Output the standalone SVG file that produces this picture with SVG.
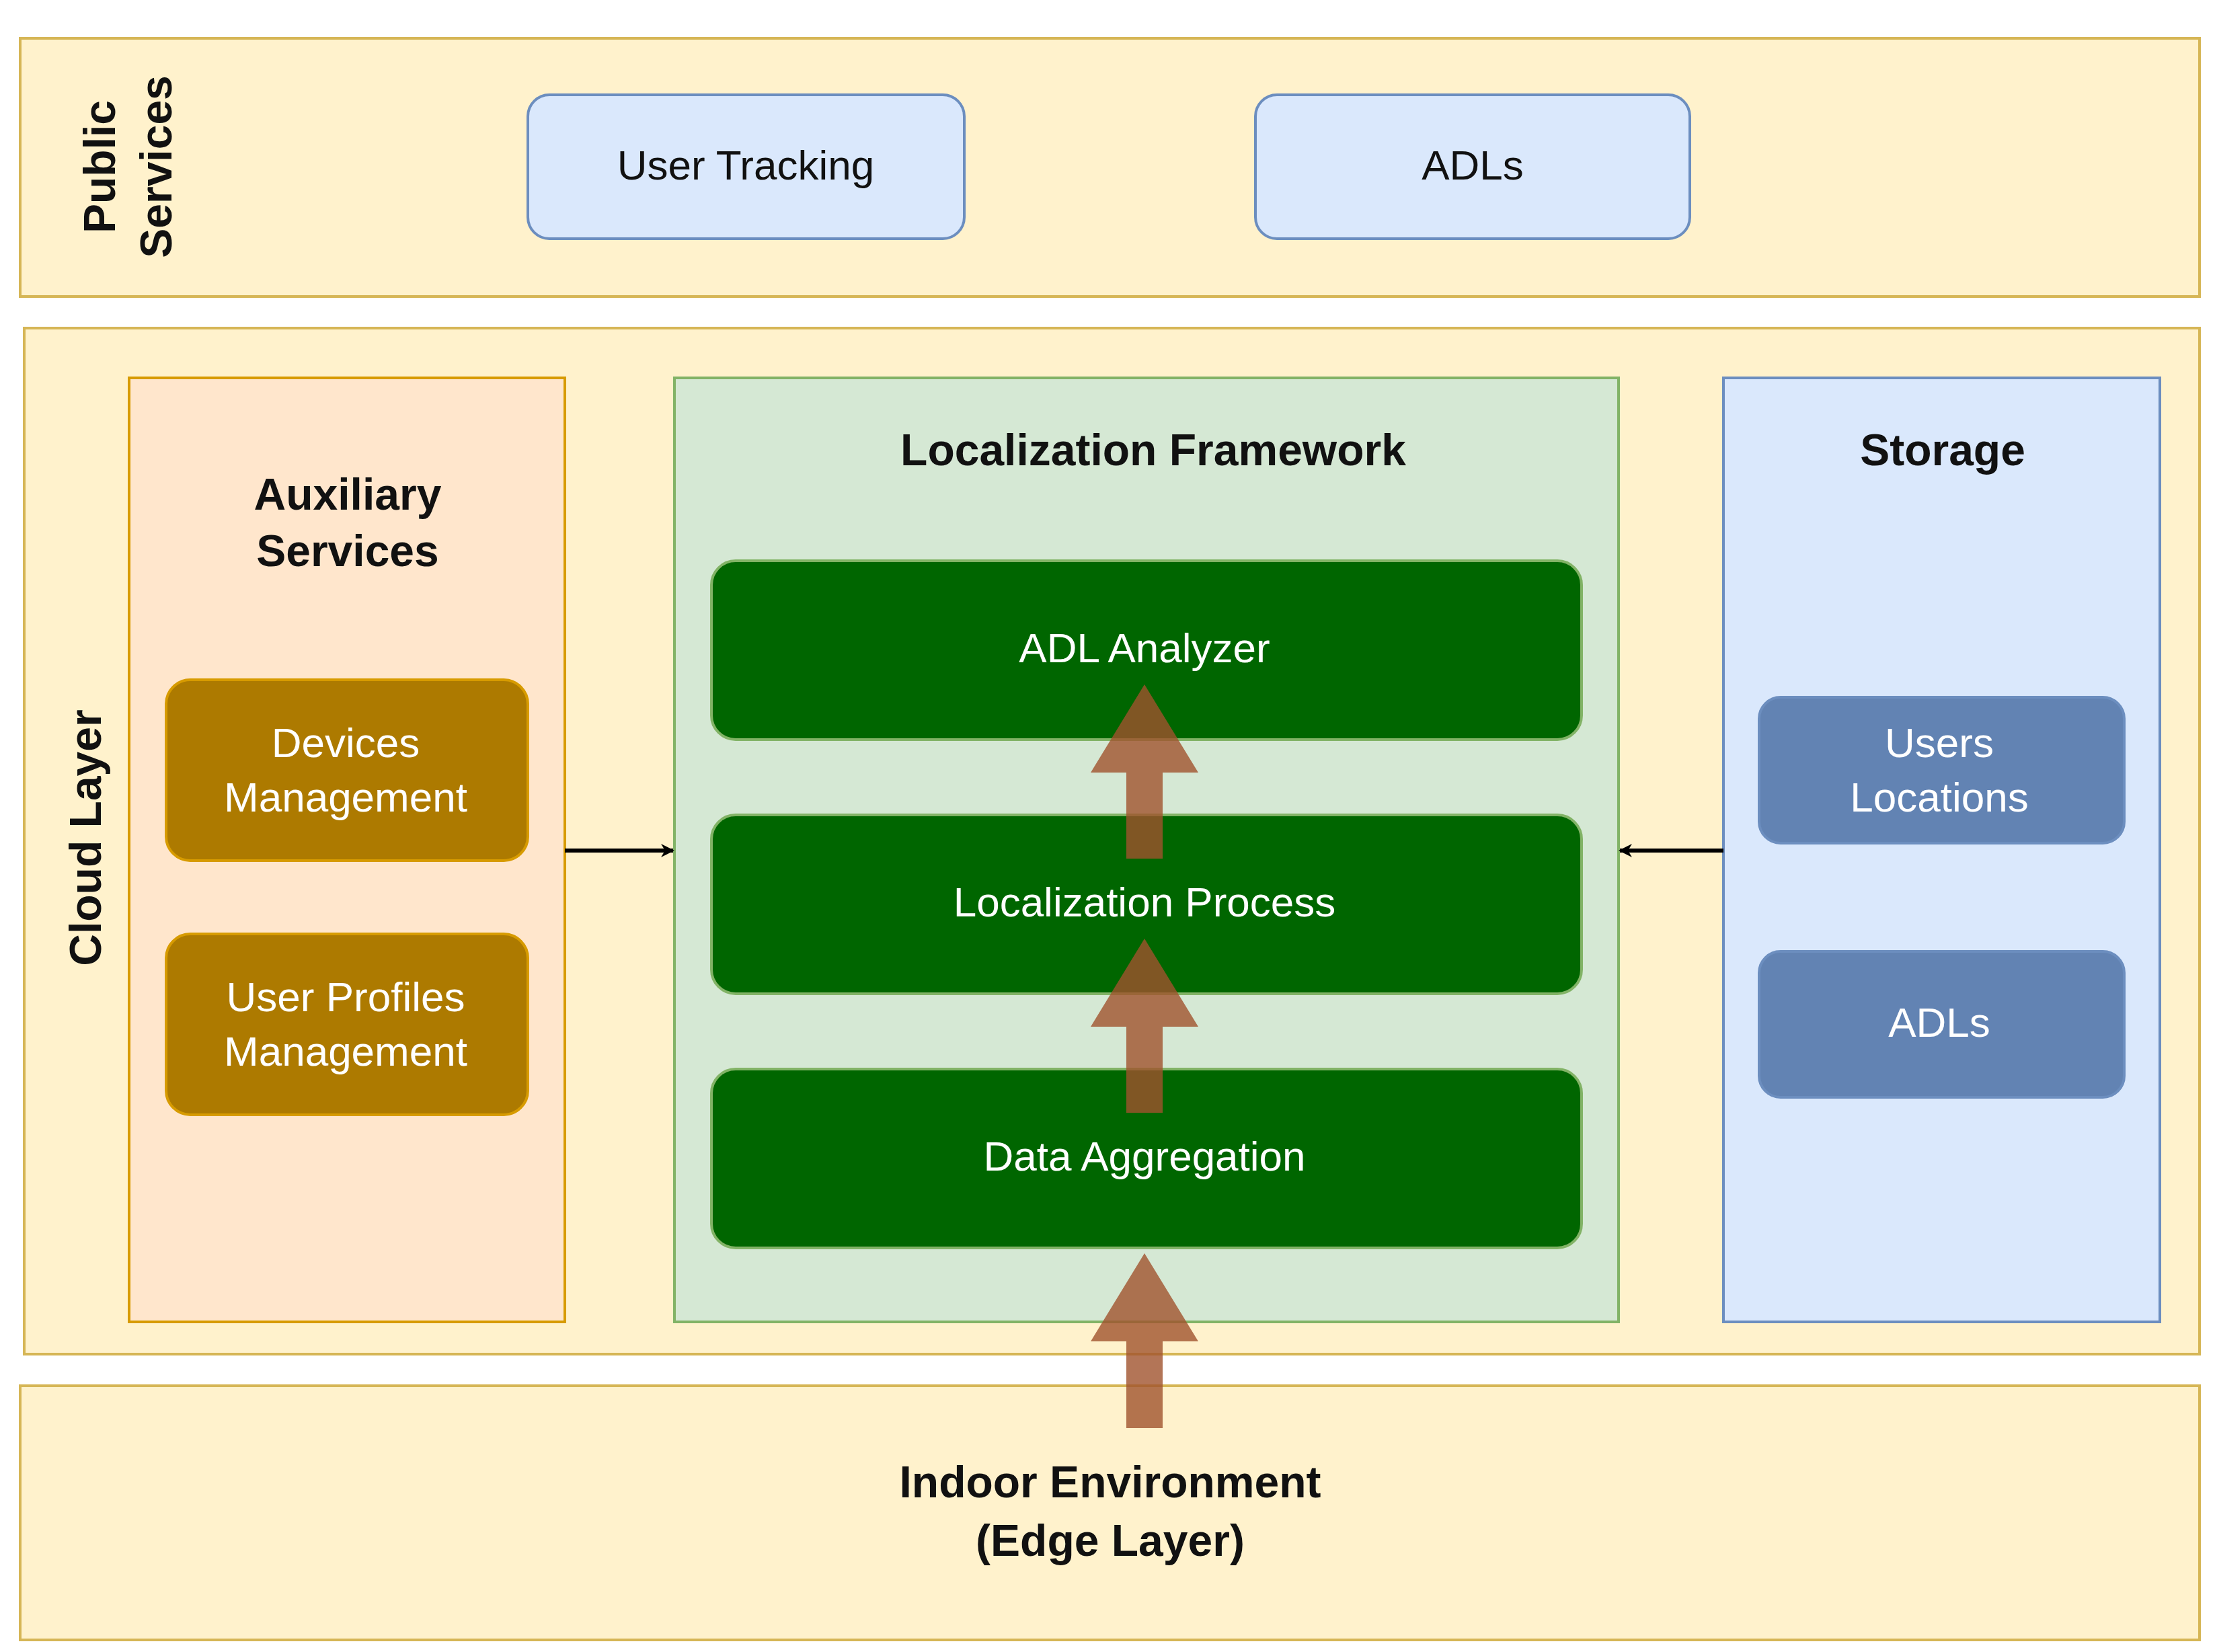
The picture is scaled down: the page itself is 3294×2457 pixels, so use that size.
<svg xmlns="http://www.w3.org/2000/svg" width="3294" height="2457" viewBox="0 0 3294 2457">
<style>
text{font-family:"Liberation Sans",Arial,sans-serif;text-anchor:middle;dominant-baseline:central}
.t{font-size:62px;fill:#111}
.b{font-size:66px;font-weight:bold;fill:#111}
.w{font-size:62px;fill:#fff}
.panel{fill:#fff2cc;stroke:#d6b656;stroke-width:4}
.blue{fill:#dae8fc;stroke:#6c8ebf;stroke-width:4}
.aux{fill:#ffe6cc;stroke:#d79b00;stroke-width:4}
.gold{fill:#ad7a00;stroke:#d79b00;stroke-width:4}
.lf{fill:#d5e8d4;stroke:#82b366;stroke-width:4}
.dg{fill:#006600;stroke:#82b366;stroke-width:4}
.sb{fill:#6283b3;stroke:#6c8ebf;stroke-width:4}
.blk{fill:#a0522d;fill-opacity:0.8}
</style>
<defs>
<marker id="ah" viewBox="0 0 20 20" refX="18" refY="10" markerWidth="20" markerHeight="20" markerUnits="userSpaceOnUse" orient="auto">
<path d="M0,0 L20,10 L0,20 L6,10 Z" fill="#000"/>
</marker>
</defs>
<rect width="3294" height="2457" fill="#fff"/>
<g id="public-services">
<rect class="panel" x="30" y="57" width="3241" height="384"/>
<text class="b" transform="translate(148,248) rotate(-90)">Public</text>
<text class="b" transform="translate(232,248) rotate(-90)">Services</text>
</g>
<g id="user-tracking"><rect class="blue" x="785" y="141" width="649" height="214" rx="32"/><text class="t" x="1109" y="245">User Tracking</text></g>
<g id="adls-public"><rect class="blue" x="1867" y="141" width="646" height="214" rx="32"/><text class="t" x="2190" y="245">ADLs</text></g>
<g id="cloud-layer">
<rect class="panel" x="36" y="488" width="3235" height="1526"/>
<text class="b" transform="translate(127,1246) rotate(-90)">Cloud Layer</text>
</g>
<g id="auxiliary-services">
<rect class="aux" x="192" y="562" width="648" height="1404"/>
<text class="b" x="517" y="735">Auxiliary</text>
<text class="b" x="517" y="819">Services</text>
</g>
<g id="devices-management"><rect class="gold" x="247" y="1011" width="538" height="269" rx="36"/><text class="w" x="514" y="1104">Devices</text><text class="w" x="514" y="1185">Management</text></g>
<g id="user-profiles-management"><rect class="gold" x="247" y="1389" width="538" height="269" rx="36"/><text class="w" x="514" y="1482">User Profiles</text><text class="w" x="514" y="1563">Management</text></g>
<g id="localization-framework">
<rect class="lf" x="1003" y="562" width="1404" height="1404"/>
<text class="b" x="1715" y="669">Localization Framework</text>
</g>
<g id="adl-analyzer"><rect class="dg" x="1058" y="834" width="1294" height="266" rx="36"/><text class="w" x="1702" y="963">ADL Analyzer</text></g>
<g id="localization-process"><rect class="dg" x="1058" y="1212" width="1294" height="266" rx="36"/><text class="w" x="1702" y="1341">Localization Process</text></g>
<g id="data-aggregation"><rect class="dg" x="1058" y="1590" width="1294" height="266" rx="36"/><text class="w" x="1702" y="1719">Data Aggregation</text></g>
<g id="storage">
<rect class="blue" x="2563" y="562" width="649" height="1404"/>
<text class="b" x="2889" y="669">Storage</text>
</g>
<g id="users-locations"><rect class="sb" x="2616" y="1037" width="543" height="217" rx="32"/><text class="w" x="2884" y="1104">Users</text><text class="w" x="2884" y="1185">Locations</text></g>
<g id="adls-storage"><rect class="sb" x="2616" y="1415" width="543" height="217" rx="32"/><text class="w" x="2884" y="1520">ADLs</text></g>
<g id="edge-layer">
<rect class="panel" x="30" y="2061" width="3241" height="378"/>
<text class="b" x="1651" y="2204">Indoor Environment</text>
<text class="b" x="1651" y="2291">(Edge Layer)</text>
</g>
<g id="connectors">
<line x1="840" y1="1265" x2="1001" y2="1265" stroke="#000" stroke-width="6" marker-end="url(#ah)"/>
<line x1="2563" y1="1265" x2="2409" y2="1265" stroke="#000" stroke-width="6" marker-end="url(#ah)"/>
<path class="blk" d="M1702,1018 L1782,1149 L1729,1149 L1729,1277 L1675,1277 L1675,1149 L1622,1149 Z"/>
<path class="blk" d="M1702,1396 L1782,1527 L1729,1527 L1729,1655 L1675,1655 L1675,1527 L1622,1527 Z"/>
<path class="blk" d="M1702,1864 L1782,1995 L1729,1995 L1729,2124 L1675,2124 L1675,1995 L1622,1995 Z"/>
</g>
</svg>
